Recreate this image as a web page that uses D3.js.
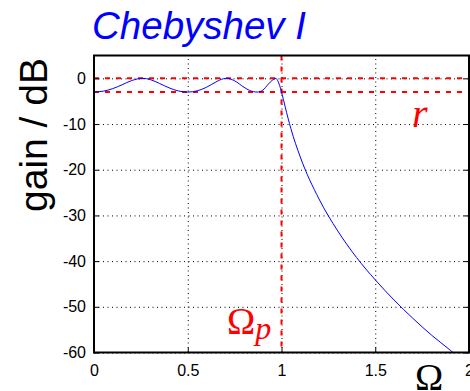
<!DOCTYPE html>
<html>
<head>
<meta charset="utf-8">
<script src="https://cdn.jsdelivr.net/npm/d3@7"></script>
<style>
  body { margin: 0; background: #fff; }
  svg { display: block; }
</style>
</head>
<body>
<div id="chart"></div>
<script>
// normalised frequency (Omega) and gain in dB
var omega = [0, 0.05, 0.1, 0.15, 0.2, 0.26, 0.3, 0.35, 0.4, 0.45, 0.5, 0.55, 0.6, 0.65, 0.69, 0.71, 0.75,
             0.8, 0.83, 0.87, 0.9, 0.93, 0.95, 0.97, 0.98, 0.99, 1.0, 1.01, 1.02, 1.05, 1.1, 1.2, 1.3,
             1.4, 1.5, 1.6, 1.7, 1.8, 1.9, 1.92];
var gain = [-3.0, -2.8, -2.25, -1.4, -0.5, 0, -0.27, -1.13, -2.07, -2.76, -3.0, -2.74, -1.95, -0.8, -0.09, 0, -0.55,
            -1.95, -2.65, -3.0, -2.6, -1.25, -0.45, 0, -0.53, -1.57, -3.0, -4.6, -6.3, -11.0, -17.2, -26.4, -33.4,
            -39.2, -44.1, -48.5, -52.5, -56.2, -59.5, -60.2];

var xTicks = [0, 0.5, 1, 1.5, 2];
var xTickLabels = ["0", "0.5", "1", "1.5", "2"];
var yTicks = [0, -10, -20, -30, -40, -50, -60];
var yTickLabels = ["0", "-10", "-20", "-30", "-40", "-50", "-60"];

var rippleLevels = [0, -3];   // passband ripple band r
var passEdge = [1];           // Omega_p

function init() {
    var w = 470, h = 391;
    var left = 94, right = 469, top = 55.5, bottom = 352.5;

    var svg = d3.select("#chart").append("svg")
        .attr("width", w)
        .attr("height", h);

    var x = d3.scaleLinear().domain([0, 2]).range([left, right]);
    var y = d3.scaleLinear().domain([-60, 5]).range([bottom, top]);

    svg.append("defs").append("clipPath").attr("id", "plot")
        .append("rect")
        .attr("x", left).attr("y", top)
        .attr("width", right - left).attr("height", bottom - top);

    // dotted grid
    var gx = svg.append("g")
        .attr("transform", "translate(0," + bottom + ")")
        .call(d3.axisBottom(x).tickValues(xTicks).tickSize(-(bottom - top)).tickFormat(""));
    var gy = svg.append("g")
        .attr("transform", "translate(" + left + ",0)")
        .call(d3.axisLeft(y).tickValues(yTicks).tickSize(-(right - left)).tickFormat(""));
    [gx, gy].forEach(function(g) {
        g.select(".domain").remove();
        g.selectAll("line")
            .attr("stroke", "#000")
            .attr("stroke-width", 1)
            .attr("stroke-dasharray", "1,3.5");
    });

    // ripple band lines
    svg.selectAll(".ripple").data(rippleLevels).enter().append("line")
        .attr("x1", left).attr("x2", right)
        .attr("y1", d => y(d)).attr("y2", d => y(d))
        .attr("stroke", "#ff0000")
        .attr("stroke-width", 2)
        .attr("stroke-dasharray", "5,6");

    // passband edge
    svg.selectAll(".edge").data(passEdge).enter().append("line")
        .attr("x1", d => x(d)).attr("x2", d => x(d))
        .attr("y1", top).attr("y2", bottom)
        .attr("stroke", "#ff0000")
        .attr("stroke-width", 2)
        .attr("stroke-dasharray", "5,6");

    // response curve
    var pts = omega.map((o, i) => ({ o: o, g: gain[i] }));
    var line = d3.line()
        .x(d => x(d.o))
        .y(d => y(d.g))
        .curve(d3.curveMonotoneX);
    svg.append("path")
        .datum(pts)
        .attr("clip-path", "url(#plot)")
        .attr("fill", "none")
        .attr("stroke", "#0000ff")
        .attr("stroke-width", 1)
        .attr("d", line);

    // axes with inside ticks
    var ax = svg.append("g")
        .attr("transform", "translate(0," + bottom + ")")
        .call(d3.axisBottom(x).tickValues(xTicks).tickSize(-5).tickPadding(12.5)
            .tickFormat((d, i) => xTickLabels[i]));
    var ay = svg.append("g")
        .attr("transform", "translate(" + left + ",0)")
        .call(d3.axisLeft(y).tickValues(yTicks).tickSize(-5).tickPadding(8)
            .tickFormat((d, i) => yTickLabels[i]));
    var ayr = svg.append("g")
        .attr("transform", "translate(" + right + ",0)")
        .call(d3.axisRight(y).tickValues(yTicks).tickSize(-5).tickFormat(""));
    [ax, ay, ayr].forEach(function(g) {
        g.select(".domain").remove();
        g.selectAll("line").attr("stroke", "#000").attr("stroke-width", 1);
        g.selectAll("text")
            .attr("fill", "#000")
            .style("font-family", "'Liberation Sans', Arial, sans-serif")
            .style("font-size", "16px");
    });

    // axes box
    svg.append("rect")
        .attr("x", left).attr("y", top)
        .attr("width", right - left).attr("height", bottom - top)
        .attr("fill", "none")
        .attr("stroke", "#000")
        .attr("stroke-width", 2);

    // title
    svg.append("text")
        .attr("x", 92).attr("y", 39)
        .attr("fill", "#0000ff")
        .style("font-family", "'Liberation Sans', Arial, sans-serif")
        .style("font-style", "italic")
        .style("font-size", "38.5px")
        .text("Chebyshev I");

    // y label
    svg.append("text")
        .attr("transform", "translate(47,135) rotate(-90)")
        .attr("text-anchor", "middle")
        .attr("fill", "#000")
        .style("font-family", "'Liberation Sans', Arial, sans-serif")
        .style("font-size", "39px")
        .text("gain / dB");

    // x label
    svg.append("text")
        .attr("x", 415).attr("y", 390)
        .attr("fill", "#000")
        .style("font-family", "'Liberation Serif', 'Times New Roman', serif")
        .style("font-size", "38px")
        .text("Ω");

    // annotations
    svg.append("text")
        .attr("x", 412).attr("y", 127)
        .attr("fill", "#ff0000")
        .style("font-family", "'Liberation Serif', 'Times New Roman', serif")
        .style("font-style", "italic")
        .style("font-size", "40px")
        .text("r");

    var op = svg.append("text")
        .attr("x", 227).attr("y", 334)
        .attr("fill", "#ff0000")
        .style("font-family", "'Liberation Serif', 'Times New Roman', serif")
        .style("font-size", "38px");
    op.append("tspan").text("Ω");
    op.append("tspan")
        .attr("dy", 5)
        .style("font-style", "italic")
        .style("font-size", "32px")
        .text("p");
}

window.onload = init;
</script>
</body>
</html>
